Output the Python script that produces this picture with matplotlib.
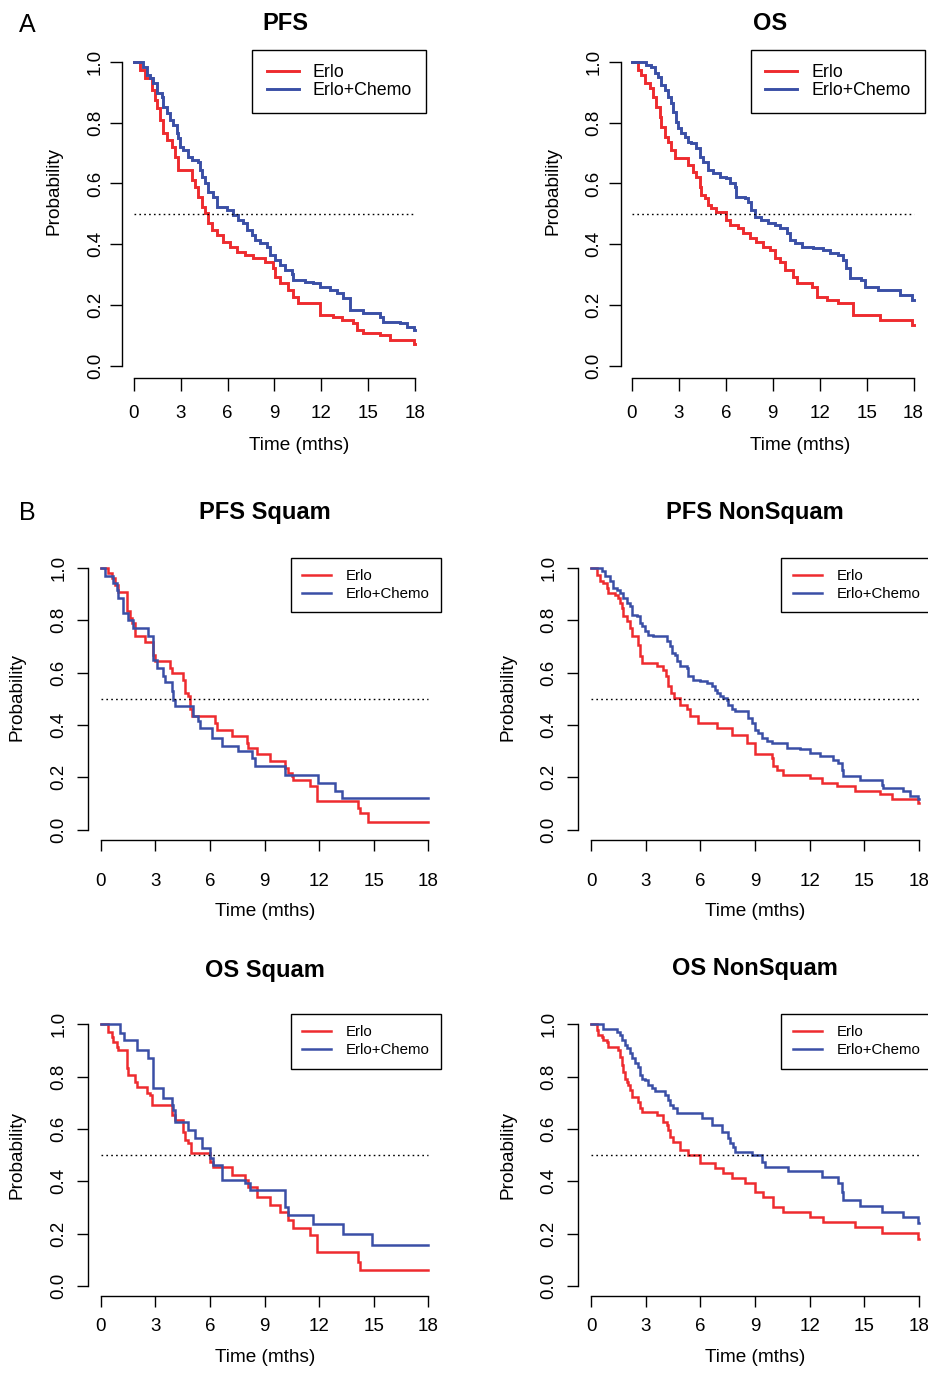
import matplotlib
matplotlib.use("Agg")
import matplotlib.pyplot as plt
import numpy as np

plt.rcParams['font.family'] = ['Liberation Sans', 'DejaVu Sans']

W, H = 929, 1378
RED = '#EE2B2F'
BLUE = '#3A4FA6'
END_TIME = 18

# ---------------- data (drop times in months, survival after drop) ----------------
pfs_erlo_t = [0.40,0.72,1.15,1.36,1.47,1.68,1.90,2.11,2.43,2.64,2.86,3.71,3.92,4.13,4.35,4.56,4.77,4.99,5.31,5.73,
              6.16,6.59,7.12,7.65,8.40,8.93,9.04,9.36,9.89,10.21,10.53,11.92,12.77,13.31,14.05,14.27,14.69,15.76,16.40,17.95]
pfs_erlo_s = [0.973,0.945,0.907,0.874,0.847,0.808,0.765,0.743,0.721,0.688,0.645,0.611,0.589,0.556,0.524,0.502,0.469,0.447,0.430,0.408,
              0.392,0.376,0.365,0.354,0.343,0.321,0.293,0.272,0.250,0.228,0.206,0.168,0.162,0.151,0.140,0.118,0.107,0.102,0.085,0.074]
pfs_chemo_t = [0.62,0.83,1.04,1.26,1.47,1.79,1.90,2.11,2.32,2.54,2.75,2.86,2.96,3.18,3.50,3.71,4.14,4.24,4.35,4.56,
               4.77,5.09,5.31,5.95,6.37,6.69,7.01,7.23,7.55,7.76,8.08,8.51,8.72,9.04,9.36,9.68,10.11,10.21,10.96,11.49,
               11.92,12.56,12.99,13.41,13.84,14.69,15.76,15.97,17.04,17.46,17.89]
pfs_chemo_s = [0.984,0.956,0.945,0.929,0.896,0.885,0.852,0.830,0.808,0.792,0.765,0.748,0.721,0.710,0.688,0.677,0.671,0.644,0.622,0.600,
               0.573,0.556,0.524,0.513,0.496,0.480,0.469,0.447,0.430,0.414,0.403,0.392,0.365,0.348,0.332,0.315,0.304,0.283,0.277,0.272,
               0.261,0.250,0.239,0.222,0.184,0.173,0.162,0.146,0.140,0.129,0.118]

os_erlo_t = [0.39,0.60,0.81,1.13,1.35,1.56,1.77,1.88,2.09,2.30,2.52,2.73,3.60,3.90,4.12,4.33,4.44,4.65,4.86,5.08,
             5.40,6.04,6.25,6.78,7.10,7.53,7.96,8.38,8.81,9.13,9.45,9.77,10.30,10.52,11.48,11.80,12.44,13.20,14.14,15.85,17.87]
os_erlo_s = [0.973,0.956,0.929,0.912,0.885,0.852,0.819,0.786,0.754,0.737,0.710,0.682,0.660,0.639,0.622,0.589,0.562,0.551,0.529,0.518,
             0.505,0.480,0.463,0.452,0.436,0.420,0.409,0.392,0.381,0.354,0.343,0.315,0.294,0.272,0.261,0.228,0.217,0.206,0.168,0.151,0.135]
os_chemo_t = [0.92,1.24,1.45,1.67,1.88,2.09,2.30,2.52,2.62,2.84,2.94,3.16,3.37,3.58,3.80,4.12,4.33,4.54,4.86,5.18,
              5.61,6.04,6.25,6.57,6.68,7.21,7.42,7.64,7.85,8.28,8.70,9.13,9.45,9.88,10.09,10.41,10.84,11.58,12.22,12.65,
              13.18,13.50,13.71,13.93,14.67,14.89,15.74,17.13,17.87]
os_chemo_s = [0.989,0.984,0.962,0.951,0.923,0.907,0.885,0.863,0.836,0.803,0.781,0.765,0.754,0.737,0.732,0.715,0.688,0.671,0.644,0.633,
              0.622,0.617,0.600,0.589,0.556,0.551,0.540,0.513,0.491,0.480,0.469,0.463,0.452,0.436,0.414,0.403,0.392,0.387,0.381,0.370,
              0.365,0.348,0.321,0.288,0.283,0.261,0.250,0.233,0.217]

pfs_sq_erlo_t = [0.42,0.60,0.79,0.97,1.43,1.61,1.70,1.88,2.43,2.89,2.98,3.81,3.94,4.54,4.63,4.81,4.91,5.00,6.28,6.37,
                 7.20,8.02,8.11,8.57,9.30,10.13,10.31,10.49,10.58,11.50,11.87,14.12,14.25,14.67]
pfs_sq_erlo_s = [0.981,0.962,0.936,0.907,0.834,0.809,0.790,0.739,0.716,0.669,0.643,0.618,0.599,0.573,0.522,0.510,0.459,0.433,0.408,0.382,
                 0.357,0.331,0.312,0.287,0.261,0.236,0.216,0.204,0.191,0.165,0.108,0.083,0.064,0.029]
pfs_sq_chemo_t = [0.24,0.70,0.88,0.95,1.25,1.52,1.79,2.62,2.89,3.07,3.44,3.53,3.90,3.99,4.08,5.09,5.36,5.46,6.10,6.65,
                  7.56,8.29,8.48,10.13,11.96,12.87,13.24]
pfs_sq_chemo_s = [0.971,0.943,0.914,0.886,0.829,0.800,0.771,0.739,0.650,0.618,0.586,0.563,0.529,0.497,0.474,0.433,0.414,0.388,0.350,0.321,
                  0.299,0.274,0.242,0.210,0.178,0.146,0.121]

pfs_nsq_erlo_t = [0.35,0.49,0.68,0.86,0.95,1.32,1.50,1.59,1.68,1.77,1.96,2.14,2.23,2.60,2.69,2.78,3.64,3.97,4.12,4.24,
                  4.37,4.55,4.88,5.25,5.43,5.89,6.90,7.72,8.54,9.00,9.91,10.00,10.19,10.55,12.02,12.66,13.48,14.49,15.86,16.50,17.96]
pfs_nsq_erlo_s = [0.975,0.949,0.943,0.924,0.905,0.898,0.885,0.866,0.847,0.815,0.796,0.771,0.739,0.707,0.662,0.637,0.624,0.611,0.586,0.548,
                  0.522,0.503,0.478,0.459,0.433,0.408,0.388,0.363,0.331,0.290,0.274,0.242,0.229,0.210,0.197,0.178,0.165,0.146,0.134,0.117,0.102]
pfs_nsq_chemo_t = [0.59,0.77,1.04,1.23,1.41,1.59,1.77,1.96,2.14,2.23,2.51,2.69,2.78,2.96,3.15,3.42,4.15,4.33,4.43,4.61,
                   4.70,4.88,5.25,5.34,5.62,5.98,6.35,6.62,6.80,6.90,7.08,7.26,7.44,7.54,7.72,7.90,8.63,8.82,9.00,9.18,
                   9.37,9.64,9.91,10.74,11.47,12.02,12.57,13.30,13.57,13.75,13.85,14.76,15.95,16.04,17.14,17.51,17.96]
pfs_nsq_chemo_s = [0.987,0.968,0.949,0.924,0.917,0.905,0.885,0.866,0.853,0.822,0.815,0.790,0.777,0.758,0.745,0.739,0.720,0.701,0.675,0.669,
                   0.643,0.624,0.618,0.586,0.573,0.567,0.561,0.548,0.535,0.522,0.510,0.503,0.497,0.478,0.459,0.452,0.427,0.408,0.382,0.369,
                   0.350,0.337,0.331,0.312,0.306,0.293,0.280,0.267,0.255,0.229,0.204,0.191,0.172,0.159,0.146,0.127,0.115]

os_sq_erlo_t = [0.42,0.60,0.69,0.88,0.97,1.43,1.52,1.88,1.98,2.53,2.71,2.80,3.90,4.08,4.54,4.63,4.81,4.96,6.00,6.19,
                7.20,7.93,8.11,8.57,9.30,9.85,10.31,10.58,11.50,11.87,14.16,14.25]
os_sq_erlo_s = [0.972,0.953,0.934,0.915,0.902,0.832,0.806,0.781,0.762,0.736,0.730,0.692,0.653,0.634,0.590,0.558,0.545,0.507,0.475,0.456,
                0.424,0.405,0.379,0.341,0.309,0.284,0.252,0.220,0.195,0.131,0.093,0.061]
os_sq_chemo_t = [1.06,1.30,1.98,2.62,2.89,3.44,3.90,3.99,4.08,4.81,5.18,5.55,6.00,6.19,6.65,7.93,8.20,10.13,10.31,11.68,13.33,14.89]
os_sq_chemo_s = [0.966,0.940,0.902,0.872,0.755,0.717,0.692,0.672,0.628,0.596,0.564,0.526,0.488,0.462,0.405,0.392,0.367,0.303,0.271,0.235,0.197,0.156]

os_nsq_erlo_t = [0.31,0.40,0.58,0.68,0.86,0.95,1.50,1.59,1.68,1.77,1.87,1.96,2.05,2.14,2.23,2.60,2.69,2.78,3.60,3.97,
                 4.15,4.24,4.33,4.52,4.88,5.34,5.98,6.80,7.26,7.72,8.45,9.00,9.46,10.00,10.55,12.02,12.75,14.49,15.95,17.96]
os_nsq_erlo_s = [0.978,0.959,0.953,0.940,0.934,0.915,0.902,0.876,0.844,0.819,0.793,0.781,0.768,0.749,0.723,0.704,0.679,0.666,0.653,0.628,
                 0.615,0.596,0.571,0.551,0.520,0.500,0.469,0.450,0.430,0.411,0.392,0.360,0.341,0.303,0.284,0.265,0.246,0.226,0.201,0.179]
os_nsq_chemo_t = [0.68,1.41,1.59,1.68,1.87,1.96,2.14,2.23,2.41,2.60,2.69,2.78,2.96,3.15,3.33,3.51,4.06,4.24,4.33,4.52,
                  4.70,6.07,6.62,7.17,7.54,7.63,7.81,7.90,8.82,9.37,9.55,10.83,12.66,13.57,13.75,13.85,14.76,15.95,17.14,17.96]
os_nsq_chemo_s = [0.982,0.972,0.959,0.940,0.921,0.908,0.889,0.870,0.851,0.838,0.806,0.793,0.787,0.768,0.755,0.745,0.730,0.711,0.692,0.679,
                  0.660,0.641,0.615,0.590,0.564,0.545,0.532,0.513,0.500,0.475,0.456,0.439,0.418,0.392,0.360,0.328,0.307,0.284,0.262,0.239]

x_ticks = [0, 3, 6, 9, 12, 15, 18]
y_ticks = [0.0, 0.2, 0.4, 0.6, 0.8, 1.0]
y_ticklabels = ['0.0', '0.2', '0.4', '0.6', '0.8', '1.0']
series_labels = ['Erlo', 'Erlo+Chemo']

# ---------------- layout helpers ----------------
fig = plt.figure(figsize=(W / 100, H / 100), dpi=100)


def add_ax(left, top, w, h):
    return fig.add_axes([left / W, 1 - (top + h) / H, w / W, h / H])


def ftext(x, y, s, **kw):
    fig.text(x / W, 1 - y / H, s, ha='center', va='center', **kw)


def km(ax, t, s, color, lw):
    tt = np.r_[0, t, END_TIME]
    ss = np.r_[1.0, s, s[-1]]
    return ax.step(tt, ss, where='post', color=color, lw=lw, solid_joinstyle='miter')[0]


def panel(ax, erlo, chemo, lw, ticklen, xpad, ypad, legfs, leg):
    l1 = km(ax, erlo[0], erlo[1], RED, lw)
    l2 = km(ax, chemo[0], chemo[1], BLUE, lw)
    ax.plot([0, END_TIME], [0.5, 0.5], color='black', lw=1.0, linestyle=(0, (1.2, 2.3)))
    ax.set_xlim(-0.72, 18.72)
    ax.set_ylim(-0.04, 1.04)
    for sp in ('top', 'right'):
        ax.spines[sp].set_visible(False)
    ax.spines['left'].set_bounds(0, 1)
    ax.spines['bottom'].set_bounds(0, 18)
    for sp in ('left', 'bottom'):
        ax.spines[sp].set_linewidth(1.0)
    ax.set_xticks(x_ticks)
    ax.set_xticklabels([str(v) for v in x_ticks])
    ax.set_yticks(y_ticks)
    ax.set_yticklabels(y_ticklabels, rotation=90, va='center')
    ax.tick_params(axis='x', length=ticklen, width=1.0, pad=xpad, labelsize=13.5)
    ax.tick_params(axis='y', length=ticklen, width=1.0, pad=ypad, labelsize=13.5)
    ax.patch.set_alpha(0)
    lg = ax.legend([l1, l2], series_labels, loc='upper right', borderaxespad=0,
                   fontsize=legfs, frameon=True, fancybox=False, framealpha=1,
                   edgecolor='black', **leg)
    lg.get_frame().set_linewidth(1.0)
    return ax


legA = dict(handlelength=1.8, handletextpad=0.8, borderpad=0.81, labelspacing=0.06)
legB = dict(handlelength=1.93, handletextpad=1.0, borderpad=0.76, labelspacing=0.27)

# Panel A
axA1 = add_ax(122.4, 49.5, 304.1, 328.7)
panel(axA1, (pfs_erlo_t, pfs_erlo_s), (pfs_chemo_t, pfs_chemo_s), 2.1, 9.0, 10.5, 4.3, 12.8, legA)
axA2 = add_ax(620.7, 49.5, 304.1, 328.7)
panel(axA2, (os_erlo_t, os_erlo_s), (os_chemo_t, os_chemo_s), 2.1, 9.0, 10.5, 4.3, 12.8, legA)

# Panel B
axB1 = add_ax(87.6, 557.5, 353.8, 282.5)
panel(axB1, (pfs_sq_erlo_t, pfs_sq_erlo_s), (pfs_sq_chemo_t, pfs_sq_chemo_s), 1.8, 7.7, 16, 7, 10.8, legB)
axB2 = add_ax(577.9, 557.5, 354.2, 282.5)
panel(axB2, (pfs_nsq_erlo_t, pfs_nsq_erlo_s), (pfs_nsq_chemo_t, pfs_nsq_chemo_s), 1.8, 7.7, 16, 7, 10.8, legB)
axB3 = add_ax(87.6, 1013.9, 353.8, 282.5)
panel(axB3, (os_sq_erlo_t, os_sq_erlo_s), (os_sq_chemo_t, os_sq_chemo_s), 1.8, 7.7, 8, 7, 10.8, legB)
axB4 = add_ax(577.9, 1013.9, 354.2, 282.5)
panel(axB4, (os_nsq_erlo_t, os_nsq_erlo_s), (os_nsq_chemo_t, os_nsq_chemo_s), 1.8, 7.7, 8, 7, 10.8, legB)

# Texts
ftext(27, 25, 'A', fontsize=18)
ftext(27, 513, 'B', fontsize=18)
ftext(285, 24, 'PFS', fontsize=17, fontweight='bold')
ftext(770, 24, 'OS', fontsize=17, fontweight='bold')
ftext(265, 512, 'PFS Squam', fontsize=17, fontweight='bold')
ftext(755, 512, 'PFS NonSquam', fontsize=17, fontweight='bold')
ftext(265, 970, 'OS Squam', fontsize=17, fontweight='bold')
ftext(755, 969, 'OS NonSquam', fontsize=17, fontweight='bold')

for (x, y) in [(299, 445), (800, 445), (265, 911), (755, 911), (265, 1357), (755, 1357)]:
    ftext(x, y, 'Time (mths)', fontsize=13.7)
for (x, y) in [(54.5, 191), (553, 191), (17.5, 697), (508, 697), (17.5, 1155), (508, 1155)]:
    ftext(x, y, 'Probability', fontsize=13.7, rotation=90)

fig.savefig('out.png', dpi=100)
